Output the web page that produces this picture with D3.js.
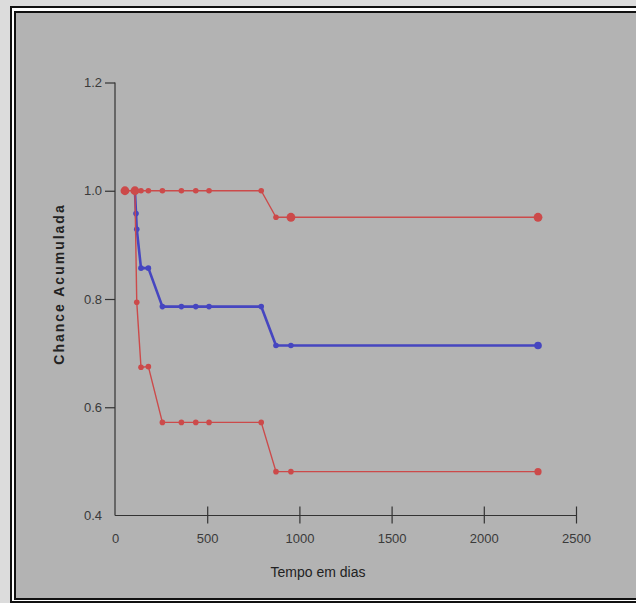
<!DOCTYPE html>
<html>
<head>
<meta charset="utf-8">
<script src="https://cdn.jsdelivr.net/npm/d3@7"></script>
<style>
  body { margin: 0; background: #dcdcdc; overflow: hidden; }
  svg { display: block; overflow: hidden; }
</style>
</head>
<body>
<svg id="chart" width="636" height="603"></svg>
<script>
// survival curve (blue) and its confidence band (red)
const days      = [108, 114, 118, 141, 181, 257, 360, 438, 510, 793, 873, 954, 2294];
const estimate  = [1.0, 0.958, 0.929, 0.857, 0.857, 0.786, 0.786, 0.786, 0.786, 0.786, 0.714, 0.714, 0.714];

const upperDays = [54, 108, 141, 181, 257, 360, 438, 510, 793, 873, 954, 2294];
const upper     = [1.0, 1.0, 1.0, 1.0, 1.0, 1.0, 1.0, 1.0, 1.0, 0.951, 0.951, 0.951];

const lowerDays = [108, 118, 141, 181, 257, 360, 438, 510, 793, 873, 954, 2294];
const lower     = [1.0, 0.794, 0.674, 0.675, 0.572, 0.572, 0.572, 0.572, 0.572, 0.481, 0.481, 0.481];

const xTicks = [0, 500, 1000, 1500, 2000, 2500];
const yTicks = [0.4, 0.6, 0.8, 1.0, 1.2];

const svg = d3.select("#chart");

// panel background and the open double frame (left, top, bottom only)
svg.append("rect").attr("x", 0).attr("y", 0).attr("width", 636).attr("height", 603).attr("fill", "#b3b3b3");
svg.append("rect").attr("x", 0).attr("y", 0).attr("width", 636).attr("height", 6).attr("fill", "#dcdcdc");
svg.append("rect").attr("x", 0).attr("y", 0).attr("width", 10).attr("height", 603).attr("fill", "#dcdcdc");
const frame = [
    {x1: 10, y1: 6,  x2: 636, y2: 6,   w: 2, c: "#111"},
    {x1: 10, y1: 6,  x2: 10,  y2: 603, w: 2, c: "#111"},
    {x1: 12, y1: 8,  x2: 636, y2: 8,   w: 3, c: "#fff"},
    {x1: 12, y1: 8,  x2: 12,  y2: 601, w: 2, c: "#fff"},
    {x1: 14, y1: 11, x2: 636, y2: 11,  w: 2, c: "#111"},
    {x1: 14, y1: 11, x2: 14,  y2: 600, w: 2, c: "#111"},
    {x1: 12, y1: 600, x2: 636, y2: 600, w: 1, c: "#fff"},
    {x1: 14, y1: 598, x2: 636, y2: 598, w: 2, c: "#111"},
    {x1: 10, y1: 601, x2: 636, y2: 601, w: 2, c: "#111"}
];
svg.append("g").selectAll("rect").data(frame).join("rect")
    .attr("x", d => d.x1).attr("y", d => d.y1)
    .attr("width", d => Math.max(d.x2 - d.x1, d.w))
    .attr("height", d => Math.max(d.y2 - d.y1, d.w))
    .attr("fill", d => d.c);

const x = d3.scaleLinear().domain([0, 2500]).range([115, 576]);
const y = d3.scaleLinear().domain([0.4, 1.2]).range([515.5, 82.5]);

const axisColor = "#333";
const labelColor = "#3a3a3a";

// y axis
const yAxis = svg.append("g").attr("transform", "translate(115,0)")
    .call(d3.axisLeft(y).tickValues(yTicks).tickFormat(d3.format(".1f")).tickSize(10).tickPadding(3));
yAxis.select(".domain").remove();
yAxis.selectAll(".tick").filter(d => d === 0.4).select("line").remove();
yAxis.selectAll(".tick line").attr("stroke", axisColor).attr("stroke-width", 1.2);
yAxis.selectAll(".tick text").attr("fill", labelColor).style("font", "13px 'Liberation Sans', Arial, sans-serif");
svg.append("line").attr("x1", 115).attr("x2", 115).attr("y1", y(1.2)).attr("y2", y(0.4))
    .attr("stroke", axisColor).attr("stroke-width", 1.2);

// x axis
const xAxis = svg.append("g").attr("transform", `translate(0,${y(0.4)})`)
    .call(d3.axisBottom(x).tickValues(xTicks).tickFormat(d3.format("d")).tickSize(0).tickPadding(18));
xAxis.select(".domain").remove();
xAxis.selectAll(".tick text").attr("fill", labelColor).style("font", "13px 'Liberation Sans', Arial, sans-serif");
xAxis.selectAll(".tick").filter(d => d > 0).append("line")
    .attr("y1", -9).attr("y2", 8).attr("stroke", axisColor).attr("stroke-width", 1.2);
svg.append("line").attr("x1", x(0)).attr("x2", x(2500)).attr("y1", y(0.4)).attr("y2", y(0.4))
    .attr("stroke", axisColor).attr("stroke-width", 1.2);

// titles
svg.append("text")
    .attr("transform", "translate(64,284) rotate(-90)")
    .attr("text-anchor", "middle")
    .attr("fill", "#222")
    .style("font", "bold 14px 'Liberation Sans', Arial, sans-serif")
    .style("letter-spacing", "2px")
    .text("Chance Acumulada");

svg.append("text")
    .attr("x", 318).attr("y", 577)
    .attr("text-anchor", "middle")
    .attr("fill", "#222")
    .style("font", "14px 'Liberation Sans', Arial, sans-serif")
    .text("Tempo em dias");

const line = d3.line().x(d => x(d[0])).y(d => y(d[1]));

function drawSeries(ds, vs, color, width, r, bigR, bigDays) {
    const pts = ds.map((d, i) => [d, vs[i]]);
    svg.append("path").datum(pts)
        .attr("fill", "none").attr("stroke", color).attr("stroke-width", width)
        .attr("stroke-linejoin", "round")
        .attr("d", line);
    svg.append("g").selectAll("circle").data(pts).join("circle")
        .attr("cx", d => x(d[0])).attr("cy", d => y(d[1]))
        .attr("r", d => bigDays.includes(d[0]) ? bigR : r)
        .attr("fill", color);
}

drawSeries(days, estimate, "#4646c0", 2.6, 2.8, 3.8, [2294]);
drawSeries(lowerDays, lower, "#cc4a4a", 1.4, 2.8, 3.6, [2294]);
drawSeries(upperDays, upper, "#cc4a4a", 1.4, 2.8, 4.4, [54, 108, 954, 2294]);
</script>
</body>
</html>
